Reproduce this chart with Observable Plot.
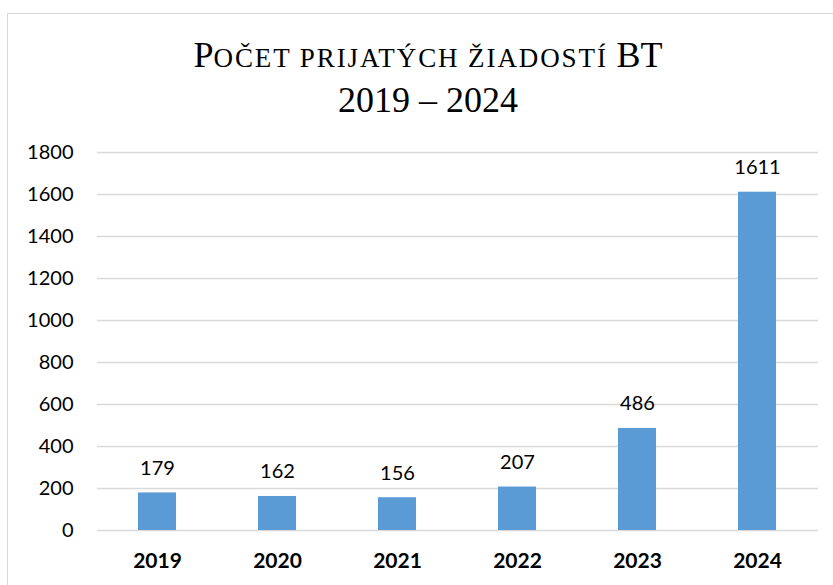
<!DOCTYPE html>
<html>
<head>
<meta charset="utf-8">
<script src="https://cdn.jsdelivr.net/npm/d3@7"></script>
<script src="https://cdn.jsdelivr.net/npm/@observablehq/plot@0.6"></script>
<style>
  html, body { margin: 0; padding: 0; background: #fff; width: 833px; height: 585px; overflow: hidden; }
  #frame { position: absolute; left: 7px; top: 13px; width: 860px; height: 620px; border: 1.5px solid #d9d9d9; box-sizing: border-box; }
  #title { position: absolute; left: 0; top: 34px; width: 856px; text-align: center; font-family: "Liberation Serif", "Times New Roman", serif; font-size: 36px; line-height: 42px; color: #000; }
  #title .sm { font-size: 27px; letter-spacing: 1.9px; }
  #chart { position: absolute; left: 0; top: 130px; }
</style>
</head>
<body>
<div id="frame"></div>
<div id="title">P<span class="sm">OČET PRIJATÝCH ŽIADOSTÍ </span>BT<br>2019 – 2024</div>
<div id="chart"></div>
<script>
const years = ["2019", "2020", "2021", "2022", "2023", "2024"];
const counts = [179, 162, 156, 207, 486, 1611];
const yTicks = [0, 200, 400, 600, 800, 1000, 1200, 1400, 1600, 1800];

const data = years.map((year, i) => ({year, count: counts[i]}));

const chart = Plot.plot({
  width: 833,
  height: 455,
  marginTop: 22,
  marginBottom: 55,
  marginLeft: 97,
  marginRight: 15,
  x: {domain: years, paddingInner: 0.68, paddingOuter: 0.34, label: null},
  y: {domain: [0, 1800], label: null},
  style: {fontFamily: "Lato, 'Open Sans', sans-serif", fontSize: "20px", color: "#000", background: "transparent"},
  marks: [
    Plot.gridY(yTicks, {stroke: "#d9d9d9", strokeOpacity: 1, strokeWidth: 1.5}),
    Plot.axisY(yTicks, {tickSize: 0, tickPadding: 24, fontSize: 20, tickFormat: d => String(d), label: null}),
    Plot.axisX({tickSize: 0, tickPadding: 23, fontSize: 21, fontWeight: "bold", label: null}),
    Plot.barY(data, {x: "year", y: "count", fill: "#5b9bd5"}),
    Plot.text(data, {x: "year", y: "count", text: d => String(d.count), dy: -18, lineAnchor: "bottom", fontSize: 20, fill: "#000"})
  ]
});
document.getElementById("chart").appendChild(chart);
</script>
</body>
</html>
